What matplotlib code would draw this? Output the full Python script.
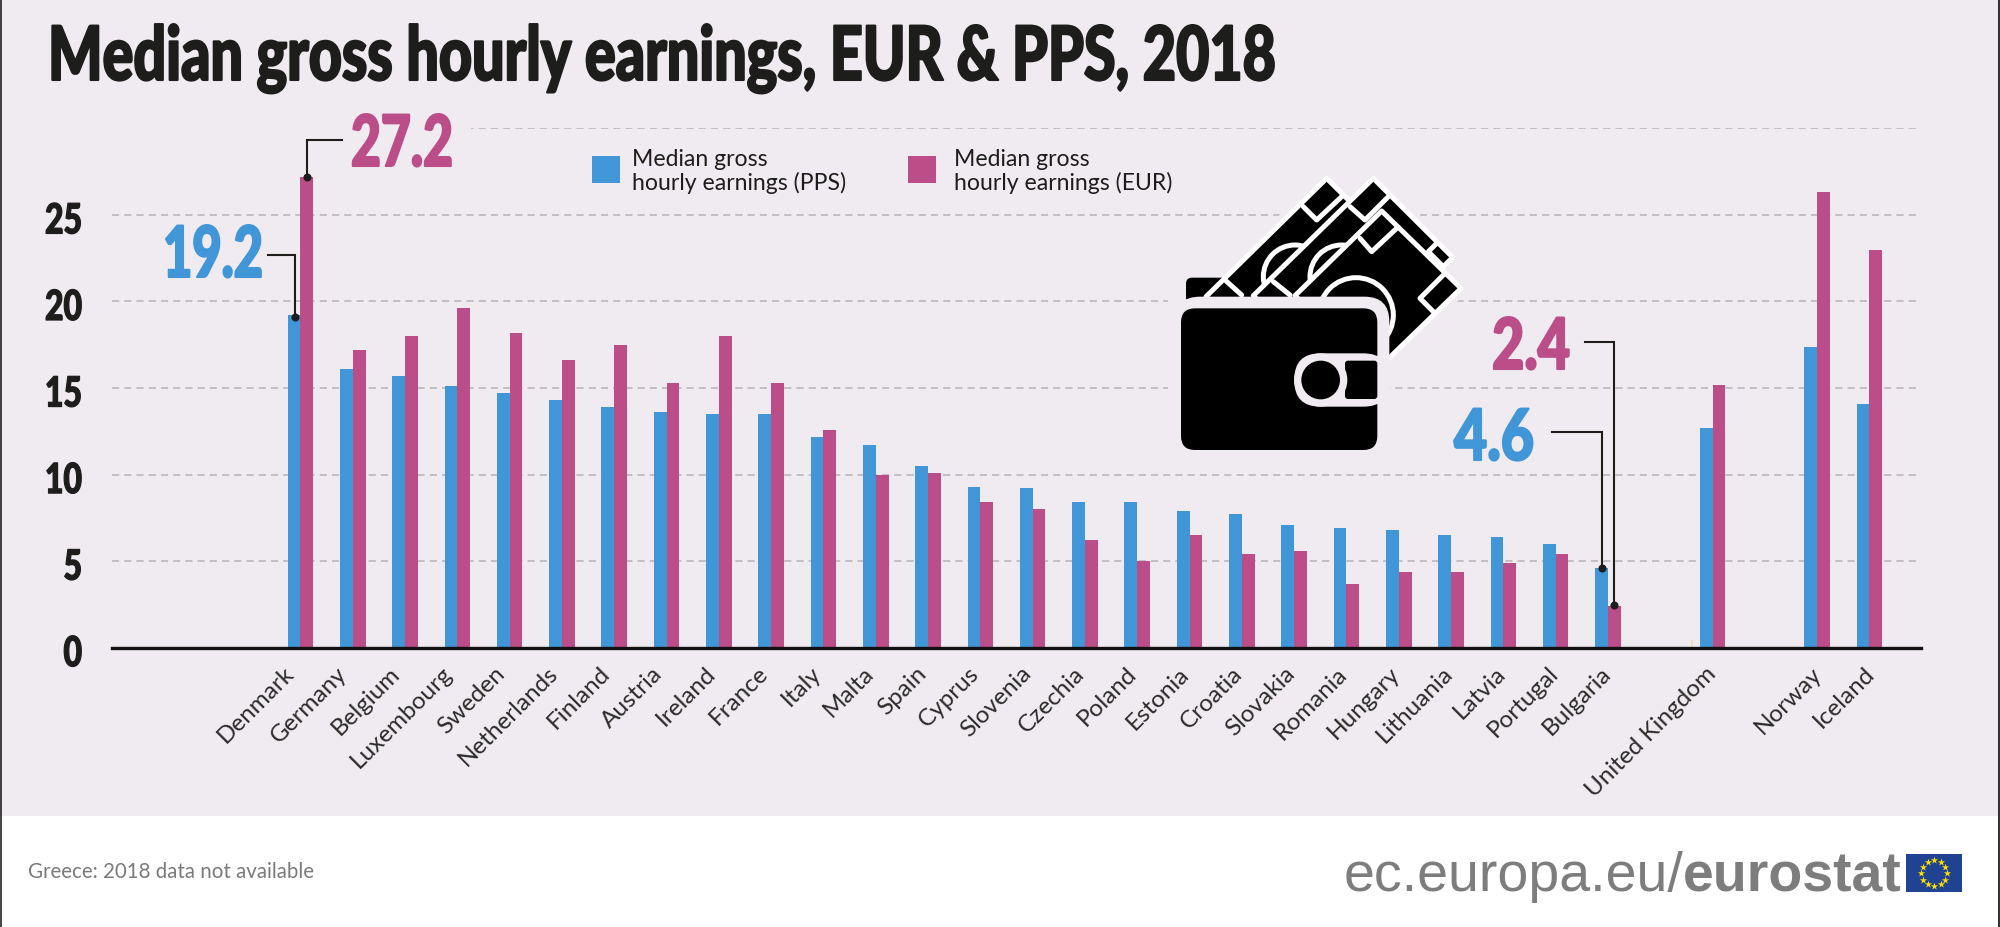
import numpy as np
import matplotlib
matplotlib.use('Agg')
import matplotlib.pyplot as plt
import matplotlib.patheffects as pe
from matplotlib.transforms import Affine2D
from matplotlib.patches import Rectangle, Circle, Polygon, FancyBboxPatch

countries = ['Denmark', 'Germany', 'Belgium', 'Luxembourg', 'Sweden', 'Netherlands', 'Finland', 'Austria',
             'Ireland', 'France', 'Italy', 'Malta', 'Spain', 'Cyprus', 'Slovenia', 'Czechia', 'Poland', 'Estonia',
             'Croatia', 'Slovakia', 'Romania', 'Hungary', 'Lithuania', 'Latvia', 'Portugal', 'Bulgaria',
             'United Kingdom', 'Norway', 'Iceland']
positions = list(range(26)) + [27, 29, 30]
pps = [19.2, 16.1, 15.7, 15.1, 14.7, 14.3, 13.9, 13.6, 13.5, 13.5, 12.2, 11.7, 10.5, 9.3, 9.2, 8.4, 8.4, 7.9,
       7.7, 7.1, 6.9, 6.8, 6.5, 6.4, 6.0, 4.6, 12.7, 17.4, 14.1]
eur = [27.2, 17.2, 18.0, 19.6, 18.2, 16.6, 17.5, 15.3, 18.0, 15.3, 12.6, 10.0, 10.1, 8.4, 8.0, 6.2, 5.0, 6.5,
       5.4, 5.6, 3.7, 4.4, 4.4, 4.9, 5.4, 2.4, 15.2, 26.3, 23.0]
y_ticks = [0, 5, 10, 15, 20, 25, 30]
y_labels = ['0', '5', '10', '15', '20', '25', '']

BG = '#f0ebf0'
BLUE = '#4096d7'
MAG = '#bb4d89'
INK = '#1d1d1b'
HEAVY = 'Lato'


# no condensed font is installed, so squeeze the glyphs sideways when the text is drawn
# and thicken them a little with a stroke of the same colour
class Squeeze(pe.AbstractPathEffect):
    def __init__(self, sx, x0, dy=0, bold=0):
        super().__init__()
        self.sx = sx
        self.x0 = x0
        self.dy = dy
        self.bold = bold

    def draw_path(self, renderer, gc, tpath, affine, rgbFace=None):
        squeezed = affine + Affine2D().translate(-self.x0, 0).scale(self.sx, 1).translate(self.x0, self.dy)
        gc0 = renderer.new_gc()
        gc0.copy_properties(gc)
        gc0.set_foreground(rgbFace)
        gc0.set_linewidth(self.bold)
        renderer.draw_path(gc0, tpath, squeezed, rgbFace)
        gc0.restore()


fig = plt.figure(figsize=(20, 9.27), dpi=100, facecolor='white')
renderer = fig.canvas.get_renderer()


def fit(t, x0, width, bold=0):
    t.set_path_effects([Squeeze(width / t.get_window_extent(renderer).width, x0, bold=bold)])


# main chart, pixel box 112..1921 x 128.4..647.7
ax = fig.add_axes([112 / 2000, 1 - 647.7 / 927, (1921 - 112) / 2000, (647.7 - 128.4) / 927], zorder=2)
ax.patch.set_alpha(0)
x = np.array(positions, dtype=float)
w = 0.245
ax.bar(x - w / 2, pps, w, color=BLUE)
ax.bar(x + w / 2, eur, w, color=MAG)
ax.set_xlim(-3.604, (1921 - 300.4) / 52.3)
ax.set_ylim(0, 30)
ax.set_yticks(y_ticks)
ax.set_yticklabels(y_labels, fontsize=30, fontweight=900, family=HEAVY, color=INK)
# the labels in the reference drift slightly against the bars
ax.set_xticks(x * 1.0069 - 0.325)
ax.set_xticklabels(countries, rotation=45, ha='right', va='top', rotation_mode='anchor',
                   fontsize=17.5, family='Lato', color='#2b2b2a')
ax.tick_params(axis='x', length=0, pad=11)
ax.tick_params(axis='y', length=0, pad=21.6)
ax.grid(axis='y', color='#b7b2b6', lw=1.1, linestyle=(0, (4.7, 3.3)))
ax.set_axisbelow(True)
for s in ['top', 'left', 'right']:
    ax.spines[s].set_visible(False)
ax.spines['bottom'].set_linewidth(2.4)
ax.spines['bottom'].set_color('#111111')
ax.vlines(26.6, 0, 0.45, color='#f5dcb8', lw=1.2)

fig.canvas.draw()
two = [t for t in ax.get_yticklabels() if t.get_text() == '25'][0]
sx_ticks = 37 / two.get_window_extent(renderer).width
for t in ax.get_yticklabels():
    t.set_path_effects([Squeeze(sx_ticks, 82, dy=-3, bold=0.9)])

# overlay in pixel coordinates for background, callouts, icon, footer
ov = fig.add_axes([0, 0, 1, 1], zorder=3)
ov.set_xlim(0, 2000)
ov.set_ylim(927, 0)
ov.axis('off')
ov.patch.set_alpha(0)
under = fig.add_axes([0, 0, 1, 1], zorder=1)
under.set_xlim(0, 2000)
under.set_ylim(927, 0)
under.axis('off')
under.add_patch(Rectangle((0, 0), 2000, 816, color=BG, lw=0))
under.plot([0.5, 0.5], [0, 927], color='#222222', lw=1.2)
under.plot([1998.5, 1998.5], [0, 927], color='#333333', lw=2.2)

# top gridline starts after the 27.2 label
ov.add_patch(Rectangle((100, 120), 371, 16, color=BG, lw=0, zorder=1))

title = ov.text(48, 80, 'Median gross hourly earnings, EUR & PPS, 2018', fontsize=54, fontweight=900,
                family=HEAVY, color=INK, va='baseline')
fit(title, 48, 1229, bold=1.5)

# callouts
for txt, col, right, base, width in [('27.2', MAG, 453, 166, 102), ('19.2', BLUE, 263, 277, 100),
                                     ('2.4', MAG, 1570, 369, 78), ('4.6', BLUE, 1534, 460, 80)]:
    t = ov.text(right, base, txt, color=col, fontsize=51, fontweight=900, family=HEAVY,
                ha='right', va='baseline', zorder=3)
    fit(t, right, width, bold=1.5)
leaders = [([306.7, 306.7, 341.5], [176.7, 140, 140]),
           ([295, 295, 268], [316.7, 255, 255]),
           ([1614, 1614, 1585], [605, 342, 342]),
           ([1601.7, 1601.7, 1551.5], [568, 431.7, 431.7])]
for lx, ly in leaders:
    ov.plot(lx, ly, color=INK, lw=1.5, solid_joinstyle='miter')
    ov.plot(lx[0], ly[0], 'o', color=INK, ms=5.8, mew=0)

# legend
ov.add_patch(Rectangle((592, 156), 28, 27, color=BLUE, lw=0))
ov.add_patch(Rectangle((908, 156), 28, 27, color=MAG, lw=0))
ov.text(632, 166, 'Median gross', fontsize=16.6, family='Lato', color=INK, va='baseline')
ov.text(632, 190, 'hourly earnings (PPS)', fontsize=16.6, family='Lato', color=INK, va='baseline')
ov.text(954, 166, 'Median gross', fontsize=16.6, family='Lato', color=INK, va='baseline')
ov.text(954, 190, 'hourly earnings (EUR)', fontsize=16.6, family='Lato', color=INK, va='baseline')


# wallet icon, measured from a crop with origin (1100,150) at 3x
def ic(p):
    return (p[0] / 3 + 1100, p[1] / 3 + 150)


def poly(pts, **kw):
    ov.add_patch(Polygon([ic(p) for p in pts], closed=True, **kw))


def box(x0, x1, y0, y1, r, color):
    (a, b), (c, d) = ic((x0, y0)), ic((x1, y1))
    ov.add_patch(FancyBboxPatch((a, b), c - a, d - b, boxstyle='round,pad=0,rounding_size=%g' % r, color=color, lw=0))


def circ(cx, cy, r, **kw):
    ov.add_patch(Circle(ic((cx, cy)), r / 3, **kw))


bills = [[(680, 85), (918, 322), (556, 680), (318, 440)],
         [(820, 85), (1058, 322), (700, 680), (460, 437)],
         [(845, 183), (1083, 415), (823, 667), (585, 437)]]
arcs = [(585, 380, 95), (725, 380, 95), (768, 495, 112)]
marks = [[[(610, 170), (650, 210), (725, 140)], [(375, 390), (425, 435)]],
         [[(750, 170), (795, 210), (865, 140)], [(1010, 280), (985, 305), (1030, 350)], [(520, 395), (570, 435)]],
         [[(780, 265), (815, 305), (890, 235)], [(1030, 375), (960, 445), (1005, 490)]]]

for b in bills:
    poly(b, fc=BG, ec=BG, lw=10, joinstyle='round')
box(204, 870, 370, 930, 10, BG)
box(258, 400, 383, 460, 6, 'black')
for b, a, m in zip(bills, arcs, marks):
    poly(b, fc='black', ec='white', lw=3.6, joinstyle='round')
    circ(a[0], a[1], a[2], fc='none', ec='white', lw=3.6)
    for line in m:
        pts = [ic(p) for p in line]
        ov.plot([p[0] for p in pts], [p[1] for p in pts], color='white', lw=3.6,
                solid_joinstyle='round', solid_capstyle='round')
box(225, 868, 440, 930, 25, BG)
box(243, 832, 475, 900, 14, 'black')
box(583, 868, 610, 770, 26, BG)
box(735, 832, 632, 747, 3, 'black')
circ(662, 690, 80, fc=BG, ec='none')
circ(662, 690, 58, fc='black', ec='none')

# footer
ov.text(28, 878, 'Greece: 2018 data not available', fontsize=14.8, family='Lato', color='#7a7a7a', va='baseline')
ov.text(1683, 891, 'ec.europa.eu/', fontsize=40, family='Liberation Sans', color='#7d7d7d', ha='right', va='baseline')
ov.text(1683, 891, 'eurostat', fontsize=40, fontweight='bold', family='Liberation Sans', color='#7d7d7d', va='baseline')
ov.add_patch(Rectangle((1906, 854), 56, 38, color='#1f4390', lw=0))
ang = np.arange(12) * np.pi / 6
ov.scatter(1934 + 13 * np.cos(ang), 873 + 13 * np.sin(ang), marker='*', s=30, color='#ffdd00', linewidths=0)

fig.savefig('out.png', dpi=100, facecolor=fig.get_facecolor())
